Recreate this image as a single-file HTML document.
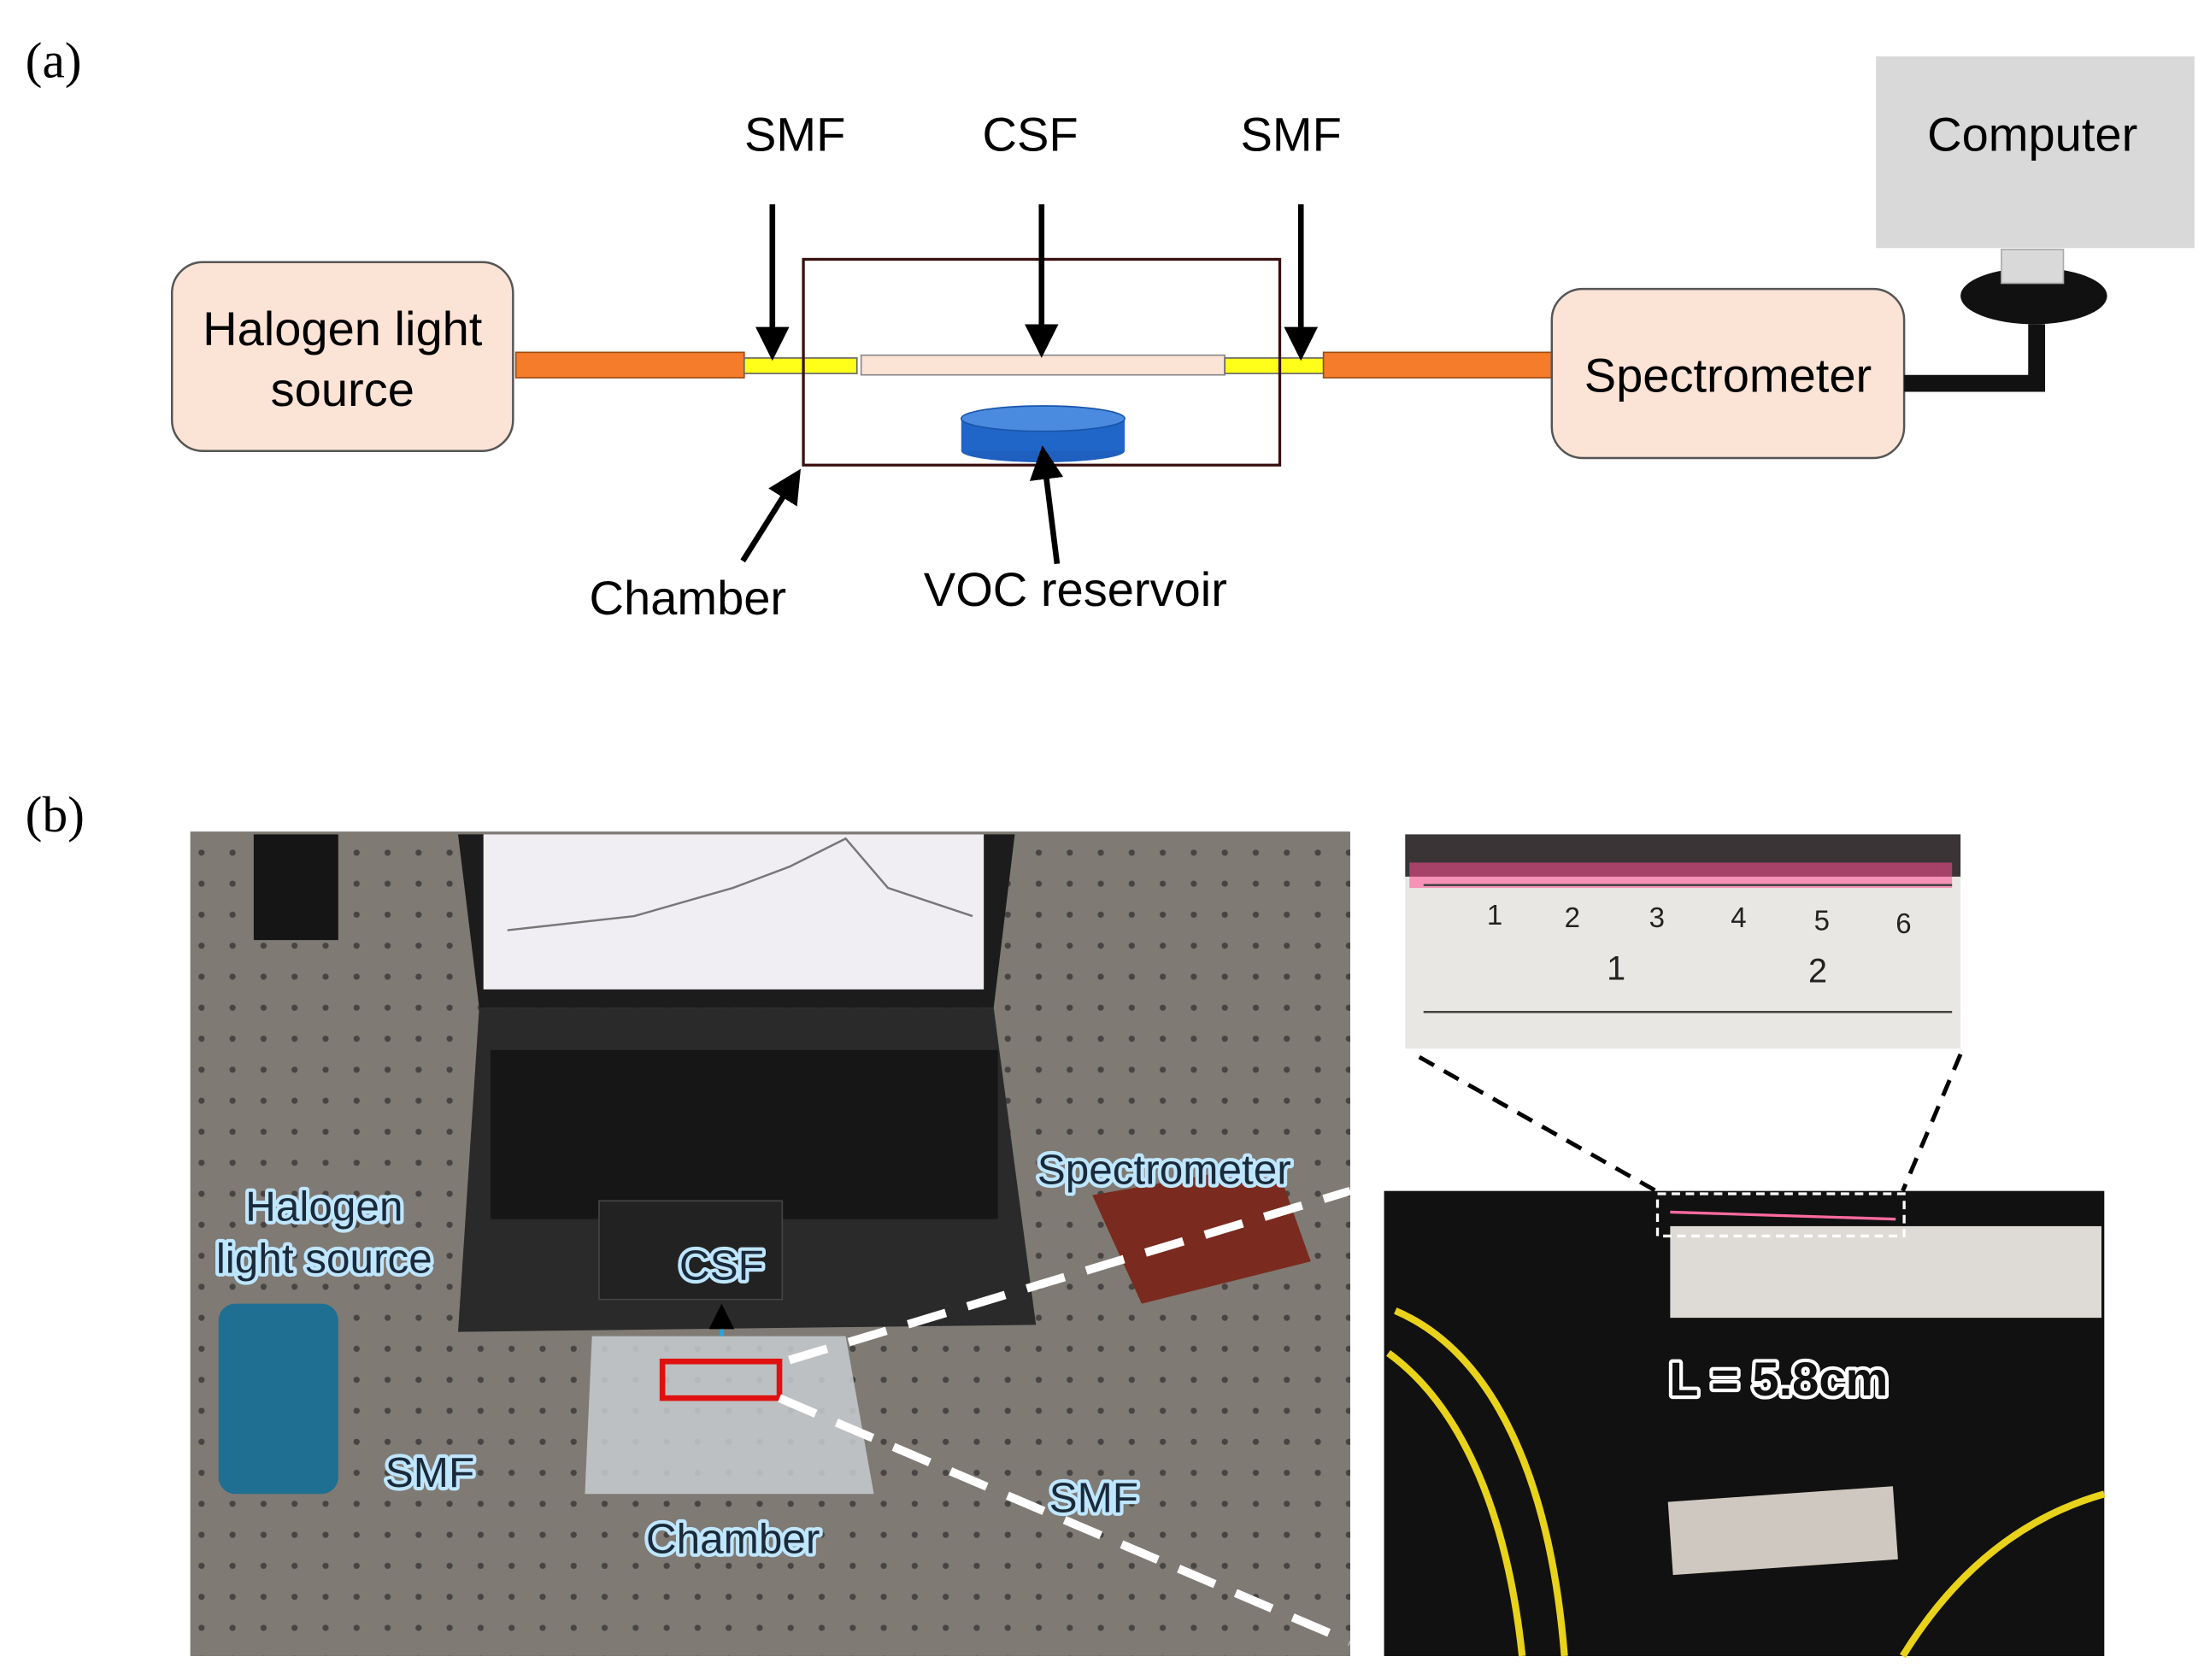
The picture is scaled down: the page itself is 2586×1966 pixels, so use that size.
<!DOCTYPE html>
<html><head><meta charset="utf-8"><style>
html,body{margin:0;padding:0;background:#fff}
svg{display:block}
text{font-family:"Liberation Sans",sans-serif}
</style></head><body>
<svg width="2586" height="1966" viewBox="0 0 1568 1192" preserveAspectRatio="none" xmlns="http://www.w3.org/2000/svg">
<defs>
<marker id="ah" markerWidth="6" markerHeight="6" refX="5" refY="3" orient="auto" markerUnits="strokeWidth"><path d="M0,0 L6,3 L0,6 z" fill="#000"/></marker>
<pattern id="holes" width="22" height="22" patternUnits="userSpaceOnUse"><circle cx="11" cy="11" r="2.2" fill="#222"/></pattern>
</defs>
<rect width="1568" height="1192" fill="#fff"/>
<text x="18" y="55" font-size="36" style="font-family:'Liberation Serif',serif">(a)</text>
<text x="18" y="590" font-size="36" style="font-family:'Liberation Serif',serif">(b)</text>

<rect x="122" y="186" width="242" height="134" rx="22" fill="#fbe3d6" stroke="#555" stroke-width="1.5"/>
<text x="243" y="245" font-size="34" text-anchor="middle">Halogen light</text>
<text x="243" y="288" font-size="34" text-anchor="middle">source</text>
<rect x="366" y="250" width="162" height="18" fill="#f47c2a" stroke="#a04a10"/>
<rect x="528" y="254" width="80" height="11" fill="#ffff1a" stroke="#666"/>
<rect x="611" y="252" width="258" height="14" fill="#fbe3d6" stroke="#888"/>
<rect x="869" y="254" width="70" height="11" fill="#ffff1a" stroke="#666"/>
<rect x="939" y="250" width="162" height="18" fill="#f47c2a" stroke="#a04a10"/>
<rect x="570" y="184" width="338" height="146" fill="none" stroke="#3a1010" stroke-width="2"/>
<ellipse cx="740" cy="320" rx="58" ry="8" fill="#1f5fbf"/>
<rect x="682" y="297" width="116" height="23" fill="#1f66c8"/>
<ellipse cx="740" cy="297" rx="58" ry="9" fill="#4a8be0" stroke="#1a55aa"/>
<rect x="1101" y="205" width="250" height="120" rx="22" fill="#fbe3d6" stroke="#555" stroke-width="1.5"/>
<text x="1226" y="278" font-size="34" text-anchor="middle">Spectrometer</text>
<rect x="1331" y="40" width="226" height="136" fill="#d9d9d9"/>
<text x="1442" y="107" font-size="34" text-anchor="middle">Computer</text>
<ellipse cx="1443" cy="210" rx="52" ry="20" fill="#111"/>
<rect x="1420" y="177" width="44" height="24" fill="#d9d9d9" stroke="#aaa"/>
<path d="M1351,272 L1445,272 L1445,230" fill="none" stroke="#111" stroke-width="12"/>
<text x="564" y="107" font-size="34" text-anchor="middle">SMF</text>
<text x="731" y="107" font-size="34" text-anchor="middle">CSF</text>
<text x="916" y="107" font-size="34" text-anchor="middle">SMF</text>
<line x1="548" y1="145" x2="548" y2="252" stroke="#000" stroke-width="4" marker-end="url(#ah)"/>
<line x1="739" y1="145" x2="739" y2="250" stroke="#000" stroke-width="4" marker-end="url(#ah)"/>
<line x1="923" y1="145" x2="923" y2="252" stroke="#000" stroke-width="4" marker-end="url(#ah)"/>
<line x1="527" y1="398" x2="566" y2="336" stroke="#000" stroke-width="4" marker-end="url(#ah)"/>
<line x1="750" y1="400" x2="740" y2="320" stroke="#000" stroke-width="4" marker-end="url(#ah)"/>
<text x="488" y="436" font-size="34" text-anchor="middle">Chamber</text>
<text x="763" y="430" font-size="34" text-anchor="middle">VOC reservoir</text>

<rect x="135" y="590" width="823" height="585" fill="#7f7a74"/>
<rect x="135" y="590" width="823" height="585" fill="url(#holes)" opacity="0.6"/>
<polygon points="325,592 720,592 705,715 340,715" fill="#1c1c1c"/>
<rect x="343" y="592" width="355" height="110" fill="#f0eef3"/>
<polyline points="360,660 450,650 520,630 560,615 600,595 630,630 690,650" fill="none" stroke="#777" stroke-width="1.5"/>
<polygon points="340,715 705,715 735,940 325,945" fill="#2a2a2b"/>
<rect x="348" y="745" width="360" height="120" fill="#161616"/>
<rect x="425" y="852" width="130" height="70" fill="#222" stroke="#444"/>
<rect x="180" y="592" width="60" height="75" fill="#151515"/>
<rect x="155" y="925" width="85" height="135" rx="12" fill="#1e6f92"/>
<polygon points="420,948 600,948 620,1060 415,1060" fill="#c8cdd0" opacity="0.85"/>
<rect x="470" y="966" width="83" height="26" fill="none" stroke="#e01010" stroke-width="4"/>
<polygon points="775,848 905,825 930,895 810,925" fill="#7a2a1e"/>
<line x1="560" y1="965" x2="958" y2="845" stroke="#fff" stroke-width="6" stroke-dasharray="28,16"/>
<line x1="553" y1="992" x2="958" y2="1165" stroke="#fff" stroke-width="6" stroke-dasharray="28,16"/>
<line x1="512" y1="948" x2="512" y2="928" stroke="#2aa3d8" stroke-width="3" marker-end="url(#ah)"/>
<g font-size="30" fill="#1a2a3a" stroke="#bfe6ff" stroke-width="5" stroke-linejoin="round" style="paint-order:stroke">
<text x="230" y="866" text-anchor="middle">Halogen</text>
<text x="230" y="903" text-anchor="middle">light source</text>
<text x="512" y="908" text-anchor="middle">CSF</text>
<text x="826" y="840" text-anchor="middle">Spectrometer</text>
<text x="305" y="1055" text-anchor="middle">SMF</text>
<text x="520" y="1102" text-anchor="middle">Chamber</text>
<text x="776" y="1073" text-anchor="middle">SMF</text>
</g>

<rect x="997" y="592" width="394" height="152" fill="#e9e7e4"/>
<rect x="997" y="592" width="394" height="30" fill="#3a3436"/>
<rect x="1000" y="612" width="385" height="18" fill="#ff4d8f" opacity="0.55"/>
<g stroke="#444" stroke-width="1.5">
<line x1="1010" y1="628" x2="1385" y2="628"/>
<line x1="1010" y1="718" x2="1385" y2="718"/>
</g>
<g font-size="20" fill="#222" style="font-family:'Liberation Serif',serif">
<text x="1055" y="656">1</text><text x="1110" y="658">2</text><text x="1170" y="658">3</text><text x="1228" y="658">4</text><text x="1287" y="660">5</text><text x="1345" y="662">6</text>
<text x="1140" y="695" font-size="24">1</text><text x="1283" y="697" font-size="24">2</text>
</g>
<line x1="1007" y1="750" x2="1175" y2="845" stroke="#000" stroke-width="3" stroke-dasharray="12,8"/>
<line x1="1391" y1="748" x2="1350" y2="845" stroke="#000" stroke-width="3" stroke-dasharray="12,8"/>

<rect x="982" y="845" width="511" height="330" fill="#111"/>
<rect x="1185" y="870" width="306" height="65" fill="#dedad5"/>
<rect x="1176" y="847" width="175" height="30" fill="none" stroke="#fff" stroke-width="2" stroke-dasharray="6,4"/>
<line x1="1185" y1="860" x2="1345" y2="865" stroke="#ff6aa0" stroke-width="2"/>
<path d="M990,930 C1060,960 1100,1050 1110,1175" fill="none" stroke="#e8d21a" stroke-width="5"/>
<path d="M985,960 C1040,1000 1070,1080 1080,1175" fill="none" stroke="#e8d21a" stroke-width="5"/>
<path d="M1350,1175 C1390,1110 1440,1075 1493,1060" fill="none" stroke="#e8d21a" stroke-width="5"/>
<rect x="1185" y="1060" width="160" height="52" fill="#cfc8c0" transform="rotate(-4 1265 1086)"/>
<text x="1262" y="990" font-size="34" font-weight="bold" fill="#111" stroke="#fff" stroke-width="5" stroke-linejoin="round" style="paint-order:stroke" text-anchor="middle">L = 5.8cm</text>
</svg>
</body></html>
